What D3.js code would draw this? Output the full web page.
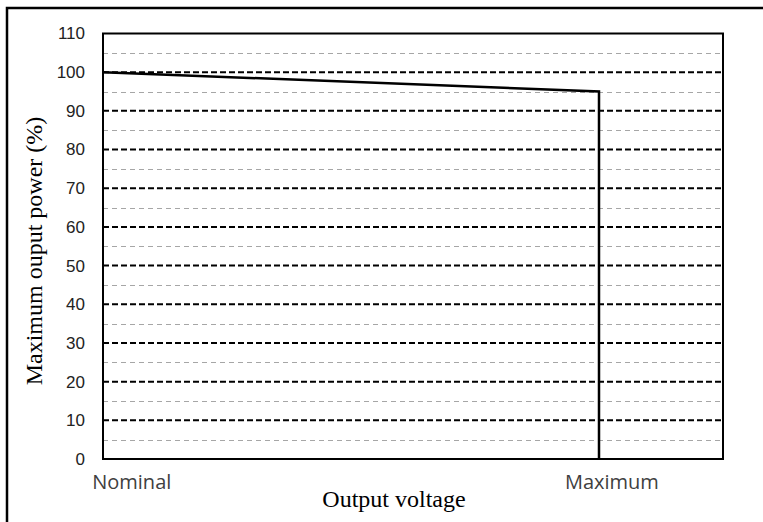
<!DOCTYPE html>
<html>
<head>
<meta charset="utf-8">
<script src="https://cdn.jsdelivr.net/npm/d3@7"></script>
<style>
  body { margin: 0; background: #fff; }
  svg { display: block; }
</style>
</head>
<body>
<svg id="chart" width="763" height="522"></svg>
<script>
// data
const categories = ["Nominal", "Maximum"];
const labelX = [0.058, 1.026];       // label centres (they are offset in the original)
const powerX = [0, 1, 1];            // Nominal = 0, Maximum = 1
const powerY = [100, 95, 0];
const yMajorTicks = [0, 10, 20, 30, 40, 50, 60, 70, 80, 90, 100, 110];
const yMinorTicks = [5, 15, 25, 35, 45, 55, 65, 75, 85, 95, 105];

const svg = d3.select("#chart");

const box = { left: 103, top: 33.5, right: 723, bottom: 459 };

const x = d3.scaleLinear().domain([0, 1.25]).range([box.left, box.right]);
const y = d3.scaleLinear().domain([0, 110]).range([box.bottom, box.top]);

// outer chart border (only left and top are inside the frame)
svg.append("path")
    .attr("d", "M7,522V8H763")
    .attr("fill", "none")
    .attr("stroke", "#000")
    .attr("stroke-width", 2.5);

// minor gridlines
svg.append("g")
    .selectAll("line")
    .data(yMinorTicks)
    .join("line")
    .attr("x1", box.left)
    .attr("x2", box.right)
    .attr("y1", d => Math.round(y(d)) + 0.5)
    .attr("y2", d => Math.round(y(d)) + 0.5)
    .attr("stroke", "#a6a6a6")
    .attr("stroke-width", 1)
    .attr("stroke-dasharray", "5,4");

// major gridlines
svg.append("g")
    .selectAll("line")
    .data(yMajorTicks.filter(d => d > 0 && d < 110))
    .join("line")
    .attr("x1", box.left)
    .attr("x2", box.right)
    .attr("y1", d => y(d))
    .attr("y2", d => y(d))
    .attr("stroke", "#000")
    .attr("stroke-width", 2)
    .attr("stroke-dasharray", "6,3");

// plot frame
svg.append("rect")
    .attr("x", box.left)
    .attr("y", box.top)
    .attr("width", box.right - box.left)
    .attr("height", box.bottom - box.top)
    .attr("fill", "none")
    .attr("stroke", "#000")
    .attr("stroke-width", 2);

// y tick labels
const yAxis = d3.axisLeft(y).tickValues(yMajorTicks).tickSize(0).tickPadding(18);
const yg = svg.append("g")
    .attr("transform", "translate(" + box.left + ",0)")
    .call(yAxis);
yg.select(".domain").remove();
yg.selectAll("text")
    .attr("fill", "#222")
    .style("font-family", "Arial, 'Liberation Sans', sans-serif")
    .style("font-size", "17px");

// x category labels
svg.append("g")
    .selectAll("text")
    .data(categories)
    .join("text")
    .attr("x", (d, i) => x(labelX[i]))
    .attr("y", 489)
    .attr("text-anchor", "middle")
    .attr("fill", "#404040")
    .style("font-family", "'Open Sans', 'Noto Sans', sans-serif")
    .style("font-size", "20px")
    .text(d => d);

// power curve
const line = d3.line()
    .x(d => x(d[0]))
    .y(d => y(d[1]));

svg.append("path")
    .datum(d3.zip(powerX, powerY))
    .attr("d", line)
    .attr("fill", "none")
    .attr("stroke", "#000")
    .attr("stroke-width", 2.5)
    .attr("stroke-linejoin", "miter");

// axis titles
svg.append("text")
    .attr("x", 394)
    .attr("y", 507)
    .attr("text-anchor", "middle")
    .style("font-family", "'Liberation Serif', 'Times New Roman', serif")
    .style("font-size", "24px")
    .text("Output voltage");

svg.append("text")
    .attr("transform", "translate(42,251) rotate(-90)")
    .attr("text-anchor", "middle")
    .style("font-family", "'Liberation Serif', 'Times New Roman', serif")
    .style("font-size", "24px")
    .text("Maximum ouput power (%)");
</script>
</body>
</html>
